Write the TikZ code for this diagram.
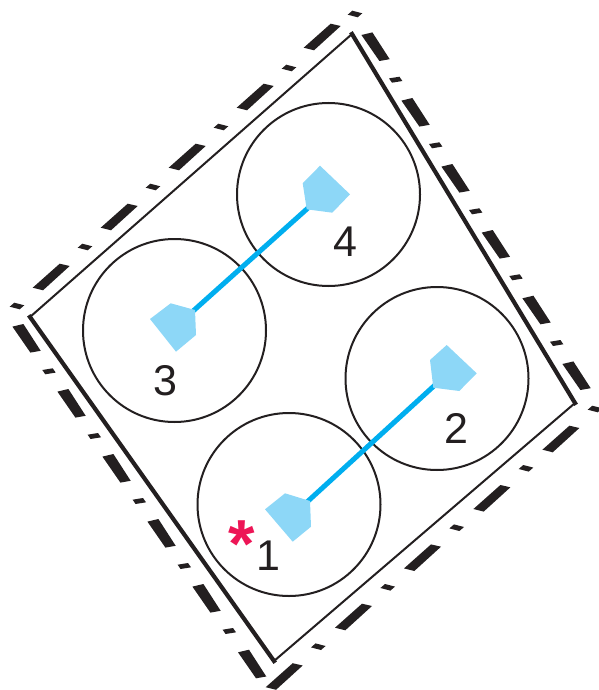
\documentclass[tikz,border=0pt]{standalone}
\usepackage{fontspec}
\setmainfont{Liberation Sans}
\definecolor{ink}{HTML}{231F20}
\definecolor{cyanline}{HTML}{00AEEF}
\definecolor{cyanfill}{HTML}{8DD7F7}
\definecolor{starred}{HTML}{ED1556}
\tikzset{
  thinside/.style={draw=ink,line width=2pt,line cap=rect},
  thickside/.style={draw=ink,line width=4.2pt,line cap=rect},
  well/.style={draw=ink,line width=2pt},
  channel/.style={draw=cyanline,line width=5pt},
  port/.style={fill=cyanfill,draw=none},
  digit/.style={text=ink,font=\fontsize{43}{43}\selectfont,anchor=base,inner sep=0pt},
  star/.style={text=starred,font=\fontsize{68}{68}\selectfont\bfseries,anchor=base,inner sep=0pt}
}
\begin{document}
\begin{tikzpicture}[x=1pt,y=-1pt]
\useasboundingbox (0,0) rectangle (599,690);
% frame corners
\coordinate (T) at (352,34);
\coordinate (L) at (30,317);
\coordinate (B) at (274,661);
\coordinate (R) at (575,403);
\draw[thinside] (L) -- (T);
\draw[thinside] (B) -- (R);
\draw[thickside] (T) -- (R);
\draw[thickside] (L) -- (B);
% dash-dot outer lines
\foreach \x/\y in {51/277,119/217,187/157,255/97,322/37,560.7/439,491.7/498.3,422.3/557.7,353.3/617,284/676.5}
  \fill[ink] (\x-18.3,\y+10.7) -- (\x+8.7,\y-13.3) -- (\x+18.7,\y-11) -- (\x-8,\y+13.3) -- cycle;
\foreach \x/\y in {17/306,85/247,153/187,221/127,289/68,355/14,526/468.3,456.7/527.7,387.7/587.3,318.3/646.7,595/409}
  \fill[ink] (\x-7.3,\y+0.7) -- (\x-2.7,\y-3.3) -- (\x+7.3,\y-0.7) -- (\x+2.7,\y+3.3) -- cycle;
\foreach \x/\y in {375.7/46.7,415.7/112.3,455.7/178.3,496/244.3,536.7/310,576.7/375.7,26.7/338.3,71.7/403.3,116.7/468.3,161.7/533.3,206.7/598.3,252.3/664}
  \fill[ink] (\x-14.3,\y-11.7) -- (\x-3.3,\y-14.3) -- (\x+14,\y+12.5) -- (\x+3.7,\y+14.3) -- cycle;
\foreach \x/\y in {395.7/79.7,435.7/145.3,475.7/211.3,516/277.3,556.7/343,49/371.3,94.3/436,139.3/501,184.3/566,229.3/631}
  \fill[ink] (\x-6.7,\y-1.3) -- (\x+3.7,\y-3) -- (\x+6.7,\y+1.3) -- (\x-3.7,\y+3) -- cycle;
% wells
\node[well,circle,minimum size=183pt,inner sep=0pt] (w3) at (174.5,330.5) {};
\node[well,circle,minimum size=183pt,inner sep=0pt] (w4) at (328.5,194.5) {};
\node[well,circle,minimum size=183pt,inner sep=0pt] (w2) at (437,378.5) {};
\node[well,circle,minimum size=183pt,inner sep=0pt] (w1) at (289,504.5) {};
% channels
\coordinate (c3) at (192,312);
\coordinate (c4) at (308,208);
\coordinate (c1) at (307,502);
\coordinate (c2) at (435,385);
\draw[channel] (c3) -- (c4);
\draw[channel] (c1) -- (c2);
% ports
\fill[port] (150,319) -- (170.7,303.3) -- (195,310) -- (196,335) -- (176,351.7) -- cycle;
\fill[port] (320,165.7) -- (350,194.3) -- (332.3,212.7) -- (306.7,209.3) -- (302.7,183.3) -- cycle;
\fill[port] (446.7,345) -- (476.7,373.3) -- (459.3,391) -- (433.3,387.7) -- (430,360) -- cycle;
\fill[port] (265,509.3) -- (285,493.3) -- (310,501) -- (311,526.7) -- (292.7,541.7) -- cycle;
% labels
\node[digit] (n4) at (345,256) {4};
\node[digit] (n3) at (165.5,395.7) {3};
\node[digit] (n2) at (456.7,443) {2};
\node[digit] (n1) at (268,570) {1};
\node[star] (s) at (241.7,567) {*};
\end{tikzpicture}
\end{document}
